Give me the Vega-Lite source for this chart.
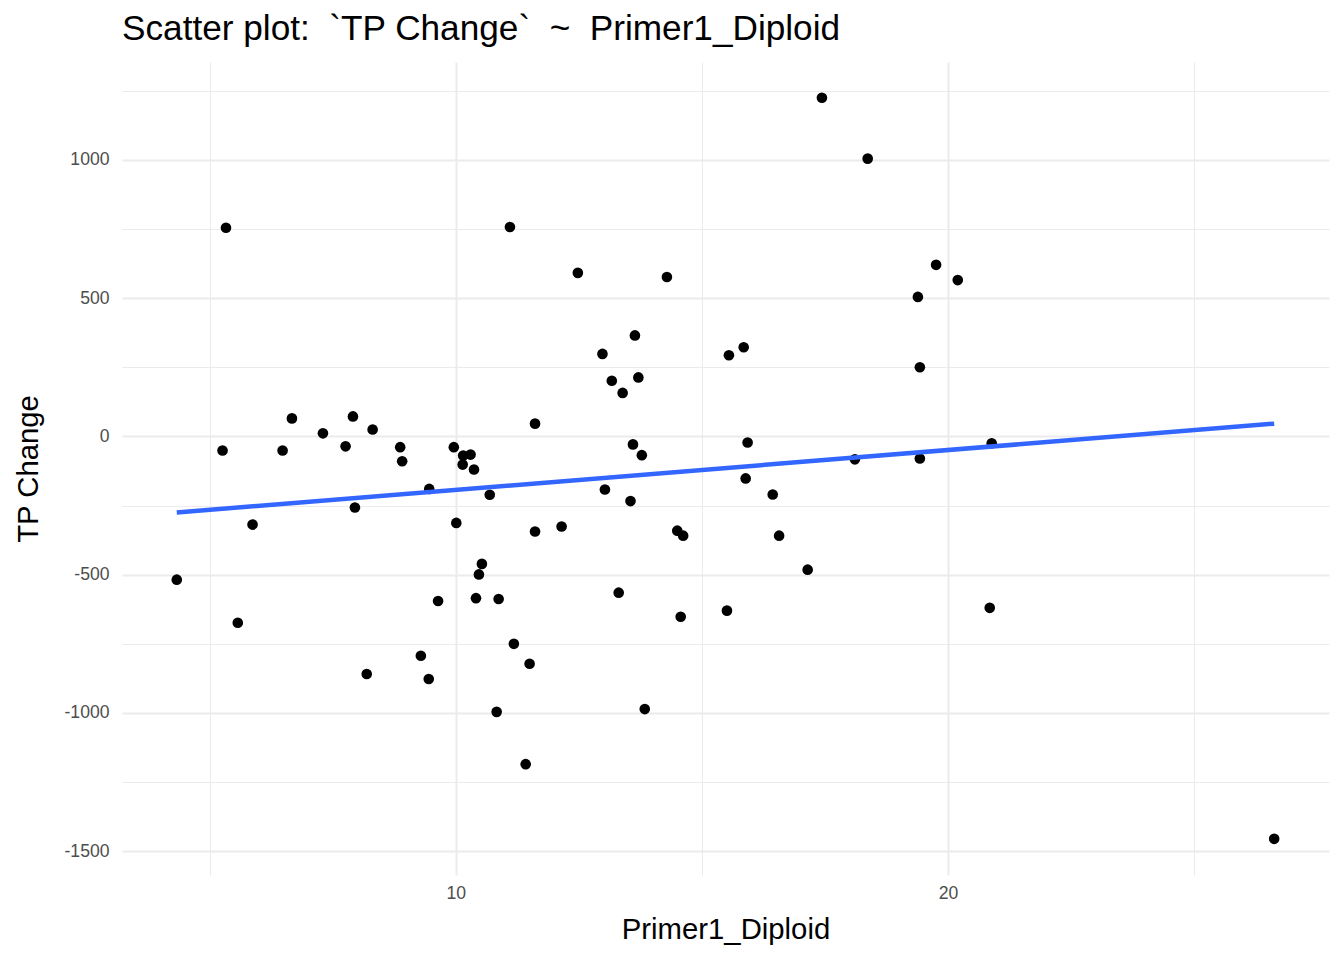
{
  "$schema": "https://vega.github.io/schema/vega-lite/v6.json",
  "description": "Scatter plot of TP Change against Primer1_Diploid with a linear fit",
  "width": 1207,
  "height": 813,
  "autosize": {"type": "none"},
  "padding": {"left": 122, "top": 62, "right": 15, "bottom": 85},
  "background": "white",
  "title": {
    "text": "Scatter plot:\u00a0 `TP Change`\u00a0 ~\u00a0 Primer1_Diploid",
    "anchor": "start",
    "frame": "group",
    "baseline": "alphabetic",
    "offset": 22,
    "dy": 35,
    "font": "Liberation Sans",
    "fontSize": 35.2,
    "fontWeight": "normal",
    "color": "black"
  },
  "data": {
    "values": [
      {"Primer1_Diploid": 4.33, "TP Change": -518},
      {"Primer1_Diploid": 5.33, "TP Change": 754},
      {"Primer1_Diploid": 5.26, "TP Change": -51},
      {"Primer1_Diploid": 5.57, "TP Change": -674},
      {"Primer1_Diploid": 5.87, "TP Change": -319},
      {"Primer1_Diploid": 6.48, "TP Change": -51},
      {"Primer1_Diploid": 6.67, "TP Change": 65},
      {"Primer1_Diploid": 7.30, "TP Change": 11},
      {"Primer1_Diploid": 7.76, "TP Change": -36},
      {"Primer1_Diploid": 7.91, "TP Change": 72},
      {"Primer1_Diploid": 7.95, "TP Change": -257},
      {"Primer1_Diploid": 8.19, "TP Change": -859},
      {"Primer1_Diploid": 8.31, "TP Change": 25},
      {"Primer1_Diploid": 8.87, "TP Change": -39},
      {"Primer1_Diploid": 8.91, "TP Change": -90},
      {"Primer1_Diploid": 9.29, "TP Change": -793},
      {"Primer1_Diploid": 9.46, "TP Change": -190},
      {"Primer1_Diploid": 9.45, "TP Change": -877},
      {"Primer1_Diploid": 9.64, "TP Change": -595},
      {"Primer1_Diploid": 9.96, "TP Change": -39},
      {"Primer1_Diploid": 10.01, "TP Change": -313},
      {"Primer1_Diploid": 10.15, "TP Change": -69},
      {"Primer1_Diploid": 10.30, "TP Change": -66},
      {"Primer1_Diploid": 10.14, "TP Change": -102},
      {"Primer1_Diploid": 10.37, "TP Change": -120},
      {"Primer1_Diploid": 10.41, "TP Change": -585},
      {"Primer1_Diploid": 10.47, "TP Change": -499},
      {"Primer1_Diploid": 10.53, "TP Change": -461},
      {"Primer1_Diploid": 10.69, "TP Change": -211},
      {"Primer1_Diploid": 10.87, "TP Change": -588},
      {"Primer1_Diploid": 10.83, "TP Change": -996},
      {"Primer1_Diploid": 11.10, "TP Change": 757},
      {"Primer1_Diploid": 11.18, "TP Change": -750},
      {"Primer1_Diploid": 11.42, "TP Change": -1185},
      {"Primer1_Diploid": 11.50, "TP Change": -822},
      {"Primer1_Diploid": 11.61, "TP Change": 46},
      {"Primer1_Diploid": 11.61, "TP Change": -344},
      {"Primer1_Diploid": 12.15, "TP Change": -326},
      {"Primer1_Diploid": 12.48, "TP Change": 591},
      {"Primer1_Diploid": 12.98, "TP Change": 298},
      {"Primer1_Diploid": 13.03, "TP Change": -192},
      {"Primer1_Diploid": 13.17, "TP Change": 201},
      {"Primer1_Diploid": 13.31, "TP Change": -565},
      {"Primer1_Diploid": 13.39, "TP Change": 157},
      {"Primer1_Diploid": 13.55, "TP Change": -234},
      {"Primer1_Diploid": 13.60, "TP Change": -29},
      {"Primer1_Diploid": 13.64, "TP Change": 365},
      {"Primer1_Diploid": 13.71, "TP Change": 213},
      {"Primer1_Diploid": 13.78, "TP Change": -68},
      {"Primer1_Diploid": 13.84, "TP Change": -986},
      {"Primer1_Diploid": 14.29, "TP Change": 576},
      {"Primer1_Diploid": 14.50, "TP Change": -341},
      {"Primer1_Diploid": 14.62, "TP Change": -359},
      {"Primer1_Diploid": 14.57, "TP Change": -652},
      {"Primer1_Diploid": 15.51, "TP Change": -630},
      {"Primer1_Diploid": 15.55, "TP Change": 293},
      {"Primer1_Diploid": 15.85, "TP Change": 322},
      {"Primer1_Diploid": 15.89, "TP Change": -152},
      {"Primer1_Diploid": 15.93, "TP Change": -22},
      {"Primer1_Diploid": 16.44, "TP Change": -210},
      {"Primer1_Diploid": 16.57, "TP Change": -359},
      {"Primer1_Diploid": 17.15, "TP Change": -482},
      {"Primer1_Diploid": 17.44, "TP Change": 1224},
      {"Primer1_Diploid": 18.11, "TP Change": -83},
      {"Primer1_Diploid": 18.37, "TP Change": 1004},
      {"Primer1_Diploid": 19.39, "TP Change": 504},
      {"Primer1_Diploid": 19.43, "TP Change": 250},
      {"Primer1_Diploid": 19.43, "TP Change": -80},
      {"Primer1_Diploid": 19.76, "TP Change": 620},
      {"Primer1_Diploid": 20.20, "TP Change": 565},
      {"Primer1_Diploid": 20.85, "TP Change": -620},
      {"Primer1_Diploid": 20.89, "TP Change": -25},
      {"Primer1_Diploid": 26.63, "TP Change": -1455}
    ]
  },
  "layer": [
    {
      "mark": {"type": "point", "filled": true, "color": "black", "opacity": 1, "size": 113},
      "encoding": {
        "x": {
          "field": "Primer1_Diploid",
          "type": "quantitative",
          "scale": {"domain": [3.217, 27.744], "nice": false, "zero": false},
          "axis": {
            "orient": "bottom",
            "values": [5, 15, 25],
            "labels": false,
            "ticks": false,
            "domain": false,
            "title": null,
            "grid": true,
            "gridColor": "#EBEBEB",
            "gridWidth": 1
          }
        },
        "y": {
          "field": "TP Change",
          "type": "quantitative",
          "scale": {"domain": [-1585.7, 1353.3], "nice": false, "zero": false},
          "axis": {
            "orient": "left",
            "values": [-1250, -750, -250, 250, 750, 1250],
            "labels": false,
            "ticks": false,
            "domain": false,
            "title": null,
            "grid": true,
            "gridColor": "#EBEBEB",
            "gridWidth": 1
          }
        }
      }
    },
    {
      "transform": [
        {"regression": "TP Change", "on": "Primer1_Diploid", "method": "linear"}
      ],
      "mark": {"type": "line", "color": "#3366FF", "strokeWidth": 4.5},
      "encoding": {
        "x": {
          "field": "Primer1_Diploid",
          "type": "quantitative",
          "axis": {
            "orient": "bottom",
            "values": [10, 20],
            "title": "Primer1_Diploid",
            "grid": true,
            "gridColor": "#EBEBEB",
            "gridWidth": 2,
            "ticks": false,
            "domain": false,
            "labelPadding": 9,
            "titlePadding": 14
          }
        },
        "y": {
          "field": "TP Change",
          "type": "quantitative",
          "axis": {
            "orient": "left",
            "values": [-1500, -1000, -500, 0, 500, 1000],
            "labelExpr": "'' + datum.value",
            "title": "TP Change",
            "grid": true,
            "gridColor": "#EBEBEB",
            "gridWidth": 2,
            "ticks": false,
            "domain": false,
            "labelPadding": 13,
            "titlePadding": 21
          }
        }
      }
    }
  ],
  "resolve": {"axis": {"x": "independent", "y": "independent"}},
  "config": {
    "view": {"stroke": null},
    "axis": {
      "labelFont": "Liberation Sans",
      "labelFontSize": 17.6,
      "labelColor": "#4D4D4D",
      "titleFont": "Liberation Sans",
      "titleFontSize": 29.3,
      "titleFontWeight": "normal",
      "titleColor": "black"
    }
  }
}
